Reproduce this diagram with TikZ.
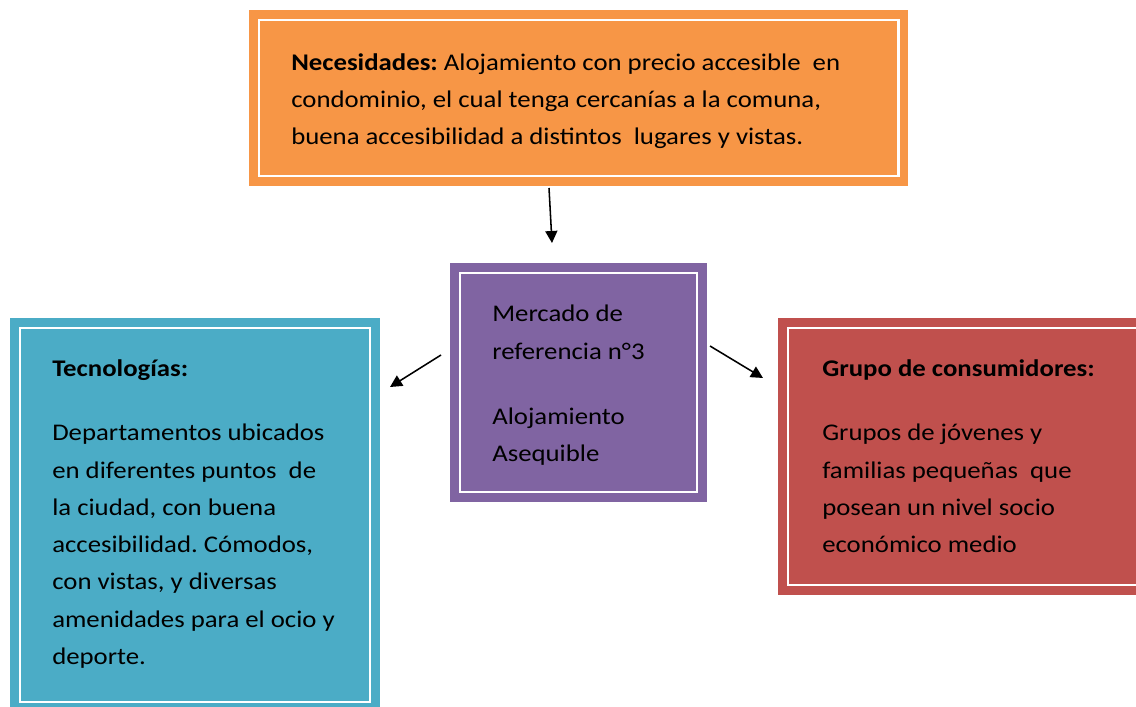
\documentclass[tikz,border=0pt]{standalone}
\usepackage{fontspec}
\setmainfont{Carlito}[FakeStretch=1.12]
\usepackage{tikz}
\usetikzlibrary{arrows.meta,calc}
\definecolor{naranja}{HTML}{F79646}
\definecolor{morado}{HTML}{8064A2}
\definecolor{celeste}{HTML}{4BACC6}
\definecolor{rojo}{HTML}{C0504D}
\frenchspacing
\tikzset{
  caja/.style={fill=#1, inner sep=0pt, outer sep=0pt},
  marco/.style={draw=white, line width=2pt},
  texto/.style={anchor=north west, align=left, inner sep=0pt, font=\fontsize{17}{26.5}\selectfont},
  flecha/.style={-{Triangle[length=3mm,width=3mm]}, line width=1.1pt}
}
\begin{document}
\begin{tikzpicture}[x=0.025cm,y=-0.025cm]
\useasboundingbox (0,0) rectangle (1136,707);
\clip (0,0) rectangle (1136,707);
% cajas
\node[caja=naranja, minimum width=16.475cm, minimum height=4.4cm] (nec) at (578.5,98) {};
\node[caja=morado, minimum width=6.425cm, minimum height=5.975cm] (mer) at (578.5,382.5) {};
\node[caja=celeste, minimum width=9.25cm, minimum height=9.85cm] (tec) at (195,515) {};
\node[caja=rojo, minimum width=9.3cm, minimum height=6.925cm] (gru) at (964,456.5) {};
\foreach \n in {nec,mer,tec,gru}
  \draw[marco] ($(\n.north west)+(10,10)$) rectangle ($(\n.south east)+(-10,-10)$);
% textos
\node[texto] (necT) at (291,53) {\textbf{Necesidades:} Alojamiento con precio accesible\ \ en\\
condominio, el cual tenga cercanías a la comuna,\\
buena accesibilidad a distintos\ \ lugares y vistas.};
\node[texto] (merT) at (492,305) {Mercado de\\
referencia n°3\\[0.69cm]
Alojamiento\\
Asequible};
\node[texto] (tecT) at (52,359) {\textbf{Tecnologías:}\\[0.69cm]
Departamentos ubicados\\
en diferentes puntos\ \ de\\
la ciudad, con buena\\
accesibilidad. Cómodos,\\
con vistas, y diversas\\
amenidades para el ocio y\\
deporte.};
\node[texto] (gruT) at (822,359) {\textbf{Grupo de consumidores:}\\[0.69cm]
Grupos de jóvenes y\\
familias pequeñas\ \ que\\
posean un nivel socio\\
económico medio};
% flechas
\coordinate (a1) at (549,188);
\coordinate (b1) at (552,243);
\coordinate (a2) at (441,355);
\coordinate (b2) at (390,387);
\coordinate (a3) at (710,346);
\coordinate (b3) at (763,378);
\draw[flecha] (a1) -- (b1);
\draw[flecha] (a2) -- (b2);
\draw[flecha] (a3) -- (b3);
\end{tikzpicture}
\end{document}
